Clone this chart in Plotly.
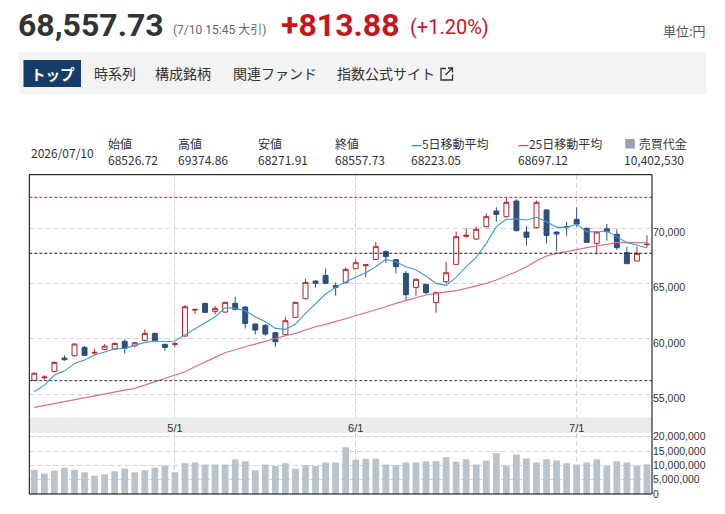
import plotly.graph_objects as go

W, H = 725, 514

dates = [
    "2026-04-10", "2026-04-13", "2026-04-14", "2026-04-15", "2026-04-16", "2026-04-17",
    "2026-04-20", "2026-04-21", "2026-04-22", "2026-04-23", "2026-04-24", "2026-04-27",
    "2026-04-28", "2026-04-30",
    "2026-05-01", "2026-05-07", "2026-05-08", "2026-05-11", "2026-05-12", "2026-05-13",
    "2026-05-14", "2026-05-15", "2026-05-18", "2026-05-19", "2026-05-20", "2026-05-21",
    "2026-05-22", "2026-05-25", "2026-05-26", "2026-05-27", "2026-05-28", "2026-05-29",
    "2026-06-01", "2026-06-02", "2026-06-03", "2026-06-04", "2026-06-05", "2026-06-08",
    "2026-06-09", "2026-06-10", "2026-06-11", "2026-06-12", "2026-06-15", "2026-06-16",
    "2026-06-17", "2026-06-18", "2026-06-19", "2026-06-22", "2026-06-23", "2026-06-24",
    "2026-06-25", "2026-06-26", "2026-06-29", "2026-06-30",
    "2026-07-01", "2026-07-02", "2026-07-03", "2026-07-06", "2026-07-07", "2026-07-08",
    "2026-07-09", "2026-07-10",
]

opens = [56260, 56494, 57067, 58273, 58484, 59237, 58725, 59056, 59086, 59780,
         59388, 59870, 60503, 59509, 59509, 60262, 62613, 63216, 62492, 62432,
         63216, 62884, 61347, 61226, 60563, 60382, 61950, 63637, 65235, 65747,
         64813, 65084, 66350, 66621, 67194, 67887, 67164, 65928, 64662, 64934,
         63276, 65175, 66742, 69274, 69032, 70148, 71564, 71052, 72468, 69665,
         70057, 71655, 69665, 70148, 70811, 69997, 68641, 69967, 69454, 67797,
         67043, 68526.72]
highs = [56980, 56735, 57971, 58514, 59599, 59357, 59116, 59539, 59689, 59960,
         59720, 60865, 60593, 59569, 59750, 63065, 62703, 63276, 62974, 63366,
         63818, 62974, 61407, 61347, 60623, 62010, 63366, 65416, 65325, 66380,
         65114, 66471, 67194, 66742, 68761, 68038, 67224, 66139, 65446, 64994,
         64300, 66953, 69696, 69997, 70148, 71353, 71896, 72800, 72619, 70208,
         72499, 71745, 69696, 70600, 71896, 70087, 69696, 70389, 69907, 68339,
         68339, 69374.86]
lows = [56230, 56283, 57007, 58031, 58424, 58454, 58514, 58996, 58996, 58695,
        59237, 59810, 59780, 58936, 59298, 60201, 62251, 62341, 62251, 62372,
        62613, 60955, 60412, 60292, 59298, 60322, 61889, 63577, 64632, 64964,
        63909, 65024, 66290, 65566, 67134, 66893, 65928, 63517, 63879, 64059,
        62372, 65024, 66681, 69153, 68942, 70087, 70600, 70992, 69726, 68430,
        69997, 68641, 67947, 69334, 70148, 68701, 67646, 68882, 68038, 66772,
        67013, 68271.91]
closes = [56900, 56554, 57881, 58122, 59539, 58514, 58785, 59357, 59599, 59147,
          59659, 60503, 59840, 59237, 59569, 62914, 62673, 62402, 62763, 63306,
          62673, 61407, 60804, 60442, 59750, 61648, 63306, 65114, 65024, 65024,
          64662, 66290, 66893, 66711, 68339, 67435, 66531, 63999, 65386, 64180,
          64180, 65988, 69244, 69364, 69907, 71052, 71263, 72348, 69786, 69183,
          72348, 69364, 69484, 70118, 70389, 68731, 69665, 69696, 68249, 66802,
          67743.85, 68557.73]

ma5 = [55228, 55831, 56735, 57097, 57790, 58092, 58544, 58845, 59086, 59147,
       59388, 59689, 59810, 59750, 59810, 60352, 60894, 61407, 62010, 62824,
       62763, 62552, 62010, 61558, 60955, 60865, 61347, 62311, 63216, 64059,
       64662, 65175, 65566, 65988, 66531, 67194, 66983, 66531, 66229, 65687,
       65024, 64843, 65566, 66531, 67375, 68641, 70148, 70811, 70841, 70750,
       70991, 70600, 70088, 70088, 70359, 69696, 69665, 69756, 69250, 68700,
       68490, 68223.05]
ma25 = [53812, 53992, 54173, 54324, 54475, 54655, 54836, 55047, 55228, 55379,
        55530, 55831, 56132, 56400, 56675, 57037, 57489, 57941, 58333, 58755,
        59056, 59297, 59539, 59810, 60051, 60292, 60503, 60804, 61106, 61317,
        61558, 61830, 62100, 62372, 62613, 62914, 63216, 63457, 63668, 63970,
        64120, 64240, 64361, 64572, 64783, 65024, 65325, 65687, 66079, 66531,
        67073, 67495, 67736, 67887, 68098, 68249, 68400, 68580, 68701, 68731,
        68731, 68697.12]

volume = [8500000, 7200000, 8100000, 9200000, 8500000, 7600000, 6400000, 6900000, 7900000, 8800000,
          7600000, 8300000, 9200000, 9900000, 7600000, 10700000, 11000000, 10300000, 10300000, 10300000,
          12100000, 11400000, 8300000, 10300000, 9800000, 10700000, 8800000, 10000000, 9800000, 11000000,
          11000000, 16300000, 12000000, 12300000, 12300000, 10300000, 10000000, 11000000, 11000000, 11400000,
          11400000, 12800000, 11300000, 12100000, 10300000, 11700000, 14200000, 9900000, 13800000, 12400000,
          11000000, 12100000, 11700000, 10700000, 10300000, 11000000, 12100000, 9900000, 11400000, 11000000,
          9900000, 10402530]

month_ticks = ["2026-05-01", "2026-06-01", "2026-07-01"]
month_labels = ["5/1", "6/1", "7/1"]
price_ticks = [55000, 60000, 65000, 70000]
volume_ticks = [0, 5000000, 10000000, 15000000, 20000000]

prev_close = 67743.85
last_price = "68,557.73"
change = "+813.88"
change_pct = "(+1.20%)"

info_labels = ["始値", "高値", "安値", "終値", "5日移動平均", "25日移動平均", "売買代金"]
info_values = ["68526.72", "69374.86", "68271.91", "68557.73", "68223.05", "68697.12", "10,402,530"]
tabs = ["時系列", "構成銘柄", "関連ファンド", "指数公式サイト"]

UP = "#b3262b"
DOWN = "#2c4f7e"
MA5_C = "#3d9ad3"
MA25_C = "#de6f82"
VOL_C = "#b8c3cb"
JP = "Noto Sans CJK JP"


def px(x):
    return x / W


def py(y):
    return 1 - y / H


# plot area in page pixels
L, R = 29.3, 652
TOP, PBOT = 174.7, 417.3
VTOP, BOT = 432.7, 494

fig = go.Figure()

fig.add_trace(go.Candlestick(
    x=dates, open=opens, high=highs, low=lows, close=closes,
    increasing=dict(fillcolor="white", line=dict(color=UP, width=1)),
    decreasing=dict(fillcolor=DOWN, line=dict(color=DOWN, width=1)),
    whiskerwidth=0, xaxis="x", yaxis="y", showlegend=False,
))
fig.add_trace(go.Scatter(x=dates, y=ma25, mode="lines", line=dict(color=MA25_C, width=1.2),
                         xaxis="x", yaxis="y", showlegend=False))
fig.add_trace(go.Scatter(x=dates, y=ma5, mode="lines", line=dict(color=MA5_C, width=1.1),
                         xaxis="x", yaxis="y", showlegend=False))
fig.add_trace(go.Bar(x=dates, y=volume, marker=dict(color=VOL_C, line=dict(width=0)),
                     xaxis="x2", yaxis="y2", showlegend=False))

grid = dict(showgrid=True, gridcolor="#d4d4d4", griddash="5px,3px", gridwidth=1)

fig.update_layout(
    width=W, height=H,
    margin=dict(l=0, r=0, t=0, b=0),
    paper_bgcolor="white", plot_bgcolor="white",
    boxgap=0.3, bargap=0.33,
    font=dict(family="Liberation Sans, Arial", color="#333"),
    xaxis=dict(type="category", domain=[px(L), px(R)], anchor="y", range=[-0.5, len(dates) - 0.5],
               tickvals=month_ticks, ticktext=month_labels, tickfont=dict(size=11, color="#333"),
               ticks="", showline=False, zeroline=False, rangeslider=dict(visible=False),
               ticklabelstandoff=3, automargin=False, **grid),
    xaxis2=dict(type="category", domain=[px(L), px(R)], anchor="y2", matches="x",
                tickvals=month_ticks, showticklabels=False, ticks="", showline=False,
                zeroline=False, automargin=False, **grid),
    yaxis=dict(domain=[py(PBOT), py(TOP)], range=[52920, 74845], side="right", anchor="x",
               tickvals=price_ticks, tickformat=",d", tickfont=dict(size=10.5, color="#333"),
               ticks="", showline=False, zeroline=False, ticklabelshift=4, automargin=False, **grid),
    yaxis2=dict(domain=[py(BOT), py(VTOP)], range=[0, 21400000], side="right", anchor="x2",
                tickvals=volume_ticks, tickformat=",d", tickfont=dict(size=10.5, color="#333"),
                ticks="", showline=False, zeroline=False, automargin=False, **grid),
)

shapes = []
# gray date band between panels
shapes.append(dict(type="rect", xref="paper", yref="paper", x0=px(L), x1=px(R),
                   y0=py(VTOP), y1=py(PBOT), fillcolor="#ebebeb", line=dict(width=0), layer="below"))
# reference lines: period high, previous close, period low
for val, col in [(max(highs), "#c0282d"), (prev_close, "#1a1a1a"), (min(lows), "#2b3a55")]:
    shapes.append(dict(type="line", xref="paper", yref="y", x0=px(L), x1=px(R), y0=val, y1=val,
                       line=dict(color=col, width=1, dash="3px,2px")))
# chart frame
shapes.append(dict(type="rect", xref="paper", yref="paper", x0=px(L), x1=px(R),
                   y0=py(BOT), y1=py(TOP), line=dict(color="black", width=1)))
# tab bar
shapes.append(dict(type="rect", xref="paper", yref="paper", x0=px(19), x1=px(706),
                   y0=py(94), y1=py(52), fillcolor="#f3f3f3", line=dict(width=0), layer="below"))
shapes.append(dict(type="rect", xref="paper", yref="paper", x0=px(23.5), x1=px(81),
                   y0=py(87), y1=py(60), fillcolor="#163d6a", line=dict(width=0), layer="below"))


def path(points_list):
    segs = []
    for pts in points_list:
        segs.append("M " + " L ".join(f"{px(x):.5f},{py(y):.5f}" for x, y in pts))
    return " ".join(segs)


icon = path([[(446, 68.5), (441, 68.5), (441, 80), (452.5, 80), (452.5, 74.5)],
             [(445.5, 75), (452.5, 68)],
             [(448, 68), (452.5, 68), (452.5, 72.5)]])
shapes.append(dict(type="path", xref="paper", yref="paper", path=icon,
                   line=dict(color="#333", width=1.3)))
fig.update_layout(shapes=shapes)

ann = []


def text(x, y, s, size, color="#333", family=JP, xanchor="left"):
    ann.append(dict(x=px(x), y=py(y), xref="paper", yref="paper", text=s, showarrow=False,
                    xanchor=xanchor, yanchor="middle", font=dict(size=size, color=color, family=family),
                    borderpad=0))


text(17, 25, "<b>" + last_price + "</b>", 32, "#333", "Roboto")
text(172, 30, "(7/10 15:45 大引)", 12, "#666", "Roboto, " + JP)
text(280, 25, "<b>" + change + "</b>", 32, "#c4161c", "Roboto")
text(409, 27, change_pct, 20, "#c4161c", "Roboto")
text(707, 30, "単位:円", 13, "#555", JP, xanchor="right")

text(52.5, 73.5, "<b>トップ</b>", 14.5, "white", JP, xanchor="center")
for tx, s in zip([92.5, 154, 231.5, 335.5], tabs):
    text(tx, 73.5, s, 14, "#333", JP)

text(30, 152, "2026/07/10", 12, "#333", JP)
info_x = [106.5, 176.5, 257, 333.5, 410, 516.5, 623]
markers = ["", "", "", "",
           '<span style="color:#2f8fd0"><b>—</b></span>',
           '<span style="color:#d9445c"><b>—</b></span>',
           '<span style="color:#9aa4ab">■</span> ']
for xx, lab, val, mk in zip(info_x, info_labels, info_values, markers):
    text(xx, 143, mk + lab, 12, "#333", JP)
    text(xx, 159.5, val, 12, "#333", JP)

fig.update_layout(annotations=ann)

# drop the default page margin so the figure sits at the window corner
fig.write_html("out.html", config={"displayModeBar": False},
               post_script="document.body.style.margin='0';")
